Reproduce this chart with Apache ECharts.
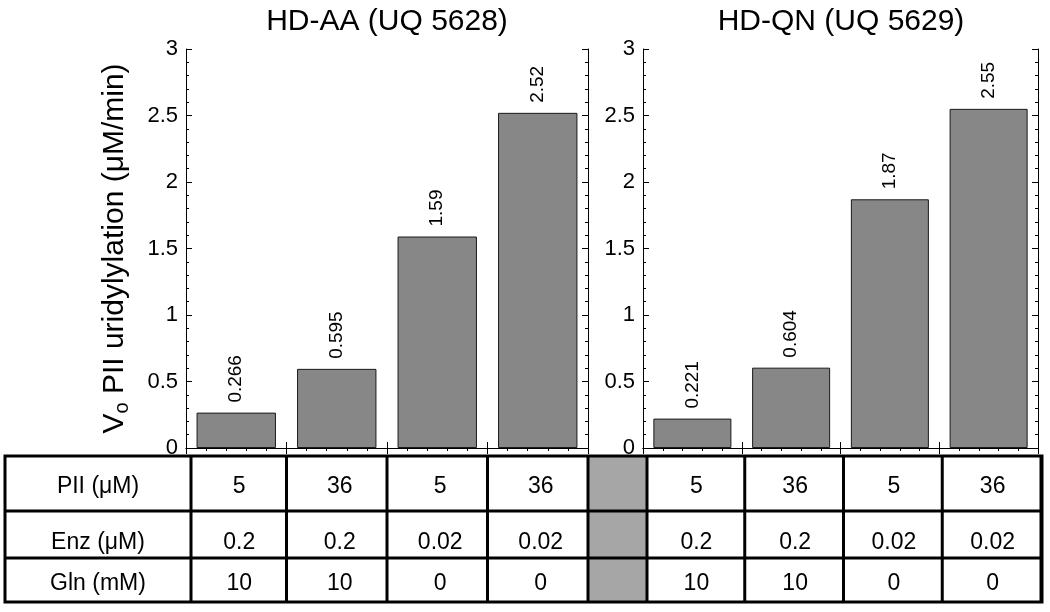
<!DOCTYPE html>
<html>
<head>
<meta charset="utf-8">
<script src="https://cdn.jsdelivr.net/npm/echarts@6/dist/echarts.min.js"></script>
<style>
  html, body { margin: 0; padding: 0; background: #fff; }
  #main { width: 1050px; height: 612px; }
</style>
</head>
<body>
<div id="main"></div>
<script>
// bar values
var categories = ['c1', 'c2', 'c3', 'c4'];
var panelTitles = ['HD-AA (UQ 5628)', 'HD-QN (UQ 5629)'];
var valuesAA = [0.266, 0.595, 1.59, 2.52];
var valuesQN = [0.221, 0.604, 1.87, 2.55];

// table under the bars (same conditions for both panels)
var rowLabels = ['PII (\u03bcM)', 'Enz (\u03bcM)', 'Gln (mM)'];
var rowPII = ['5', '36', '5', '36'];
var rowEnz = ['0.2', '0.2', '0.02', '0.02'];
var rowGln = ['10', '10', '0', '0'];

var FONT = 'Liberation Sans, Arial, Helvetica, sans-serif';
var chart = echarts.init(document.getElementById('main'));

function valueY(gridIndex, position, showLabels) {
    return {
        type: 'value', gridIndex: gridIndex, position: position,
        min: 0, max: 3, interval: 0.5,
        axisLine: { show: true, lineStyle: { color: '#000', width: 1 } },
        axisTick: { show: true, inside: true, length: 6, lineStyle: { color: '#000' } },
        minorTick: { show: true, splitNumber: 5, length: 3, lineStyle: { color: '#000' } },
        splitLine: { show: false },
        axisLabel: { show: showLabels, color: '#000', fontFamily: FONT, fontSize: 22, margin: 8,
                     padding: [0, 0, 6, 0] }
    };
}

function topX(gridIndex) {
    return {
        type: 'value', gridIndex: gridIndex, position: 'top',
        min: 0, max: 4, interval: 1,
        axisLine: { show: true, lineStyle: { color: '#000', width: 1 } },
        axisTick: { show: true, inside: true, length: 6, lineStyle: { color: '#000' } },
        minorTick: { show: true, splitNumber: 5, length: 3, lineStyle: { color: '#000' } },
        splitLine: { show: false },
        axisLabel: { show: false }
    };
}

function bottomX(gridIndex) {
    return {
        type: 'category', gridIndex: gridIndex, data: categories,
        axisLine: { show: true, lineStyle: { color: '#000', width: 1 } },
        axisTick: { show: true, inside: true, length: 6, lineStyle: { color: '#000' } },
        axisLabel: { show: false }
    };
}

function barSeries(xi, yi, data) {
    return {
        type: 'bar', xAxisIndex: xi, yAxisIndex: yi, data: data,
        barCategoryGap: '21%',
        itemStyle: { color: '#878787', borderColor: '#1a1a1a', borderWidth: 1 },
        label: {
            show: true, position: 'top', rotate: 90, distance: 10,
            align: 'left', verticalAlign: 'middle',
            color: '#000', fontFamily: FONT, fontSize: 19,
            formatter: function (p) { return String(p.value); }
        }
    };
}

var option = {
    backgroundColor: '#fff',
    animation: false,
    title: [
        { text: panelTitles[0], left: 382, top: 2, textAlign: 'center',
          textStyle: { fontFamily: FONT, fontSize: 30, fontWeight: 'normal', color: '#000' } },
        { text: panelTitles[1], left: 836, top: 2, textAlign: 'center',
          textStyle: { fontFamily: FONT, fontSize: 30, fontWeight: 'normal', color: '#000' } }
    ],
    grid: [
        { left: 186, right: 462, top: 49, bottom: 164 },
        { left: 643, right: 12, top: 49, bottom: 164 }
    ],
    xAxis: [bottomX(0), bottomX(1), topX(0), topX(1)],
    yAxis: [
        Object.assign(valueY(0, 'left', true), {
            name: '{v|V}{o|o}{v| PII uridylylation (\u03bcM/min)}',
            nameLocation: 'middle', nameGap: 54,
            nameTextStyle: {
                rich: {
                    v: { fontFamily: FONT, fontSize: 30, color: '#000' },
                    o: { fontFamily: FONT, fontSize: 20, color: '#000', verticalAlign: 'bottom', padding: [14, 0, 0, 0] }
                }
            }
        }),
        valueY(0, 'right', false),
        valueY(1, 'left', true),
        valueY(1, 'right', false)
    ],
    series: [
        barSeries(0, 0, valuesAA),
        barSeries(1, 2, valuesQN)
    ]
};

chart.setOption(option);

// table: column edges follow the category boundaries of each panel
var tTop = 456, tBot = 602, rowLines = [511, 558];
var rowCenters = [487, 543, 584];
var tLeft = 5;
var rows = [rowPII, rowEnz, rowGln];
var edgesA = [], edgesB = [];
for (var i = 0; i <= categories.length; i++) {
    edgesA.push(chart.convertToPixel({ xAxisIndex: 2 }, i));
    edgesB.push(chart.convertToPixel({ xAxisIndex: 3 }, i));
}
var tRight = edgesB[edgesB.length - 1] + 4;
var g = [];
var LW = 3;
g.push({ type: 'rect', shape: { x: edgesA[4], y: tTop, width: edgesB[0] + 4 - edgesA[4], height: tBot - tTop },
         style: { fill: '#a6a6a6' } });
function vline(x) {
    g.push({ type: 'line', shape: { x1: x, y1: tTop, x2: x, y2: tBot }, style: { stroke: '#000', lineWidth: LW } });
}
function hline(y) {
    g.push({ type: 'line', shape: { x1: tLeft, y1: y, x2: tRight, y2: y }, style: { stroke: '#000', lineWidth: LW } });
}
edgesA.forEach(function (x, k) { vline(k === 0 ? x + 5 : x); });
edgesB.forEach(function (x, k) { vline(k === 0 ? x + 4 : x + 3); });
rowLines.forEach(hline);
g.push({ type: 'rect', shape: { x: tLeft, y: tTop, width: tRight - tLeft, height: tBot - tTop },
         style: { fill: 'none', stroke: '#000', lineWidth: LW } });

function cellText(x, y, t) {
    g.push({ type: 'text', x: x, y: y,
             style: { text: t, fill: '#000', font: '23px ' + FONT, align: 'center', verticalAlign: 'middle' } });
}
rowLabels.forEach(function (lab, r) {
    cellText((tLeft + edgesA[0] + 5) / 2, rowCenters[r], lab);
    rows[r].forEach(function (v, c) {
        cellText((edgesA[c] + edgesA[c + 1]) / 2 + 3, rowCenters[r], v);
        cellText((edgesB[c] + edgesB[c + 1]) / 2 + 4, rowCenters[r], v);
    });
});
chart.setOption({ graphic: g });
</script>
</body>
</html>
